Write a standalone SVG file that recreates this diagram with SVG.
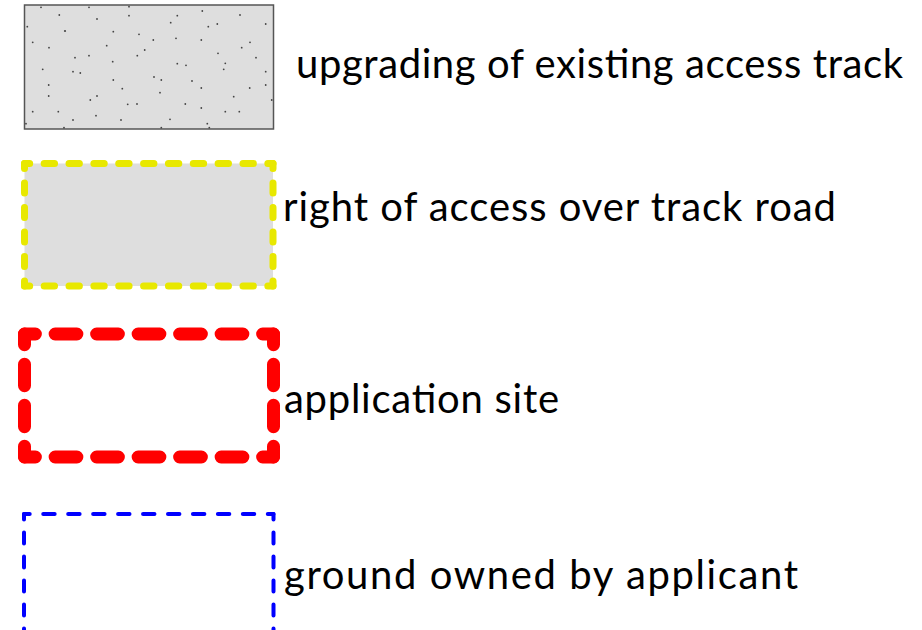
<svg xmlns="http://www.w3.org/2000/svg" width="922" height="630" viewBox="0 0 922 630">
<style>
.lbl{font-family:Lato,"Open Sans","Liberation Sans",sans-serif;font-size:40px;fill:#000}
.dot{fill:#444}
.yel{fill:none;stroke:#e8e800;stroke-width:7;stroke-linecap:round;stroke-dasharray:10 14;stroke-dashoffset:5}
.red{fill:none;stroke:#ff0000;stroke-width:13;stroke-linecap:round;stroke-dasharray:22 20;stroke-dashoffset:11}
.blu{fill:none;stroke:#0000ff;stroke-width:4;stroke-linecap:round;stroke-dasharray:11 13;stroke-dashoffset:5.5}
</style>
<rect width="922" height="630" fill="#fff"/>
<g id="legend-upgrading">
<rect x="24.5" y="5" width="249" height="124" fill="#dedede" stroke="#555" stroke-width="1.5"/>
<g>
<circle class="dot" cx="41" cy="7.3" r="0.9"/><circle class="dot" cx="89" cy="7.3" r="0.9"/><circle class="dot" cx="129" cy="6.7" r="0.9"/>
<circle class="dot" cx="59.3" cy="15" r="0.9"/><circle class="dot" cx="97" cy="19" r="0.9"/><circle class="dot" cx="129" cy="15.7" r="0.9"/>
<circle class="dot" cx="177.3" cy="15.7" r="0.9"/><circle class="dot" cx="202.3" cy="11" r="0.9"/><circle class="dot" cx="240" cy="15" r="0.9"/>
<circle class="dot" cx="27.3" cy="26.7" r="0.9"/><circle class="dot" cx="65" cy="31" r="1.1"/><circle class="dot" cx="113.3" cy="31.7" r="0.9"/>
<circle class="dot" cx="139" cy="34.3" r="0.9"/><circle class="dot" cx="170.7" cy="22.7" r="0.9"/><circle class="dot" cx="208.3" cy="26.7" r="0.9"/>
<circle class="dot" cx="217.3" cy="24" r="0.9"/><circle class="dot" cx="265.7" cy="24" r="0.9"/><circle class="dot" cx="32.7" cy="42.3" r="0.9"/>
<circle class="dot" cx="49" cy="47.7" r="0.9"/><circle class="dot" cx="106.7" cy="45.7" r="0.9"/><circle class="dot" cx="153.3" cy="40" r="0.9"/>
<circle class="dot" cx="176" cy="38.3" r="0.9"/><circle class="dot" cx="201.3" cy="40" r="0.9"/><circle class="dot" cx="250" cy="42.3" r="0.9"/>
<circle class="dot" cx="241.7" cy="47.7" r="0.9"/><circle class="dot" cx="144.7" cy="50" r="0.9"/><circle class="dot" cx="218" cy="53.3" r="0.9"/>
<circle class="dot" cx="75" cy="57.7" r="0.9"/><circle class="dot" cx="89" cy="55.7" r="0.9"/><circle class="dot" cx="137.3" cy="55.7" r="0.9"/>
<circle class="dot" cx="112.7" cy="61.7" r="0.9"/><circle class="dot" cx="256" cy="57.7" r="0.9"/><circle class="dot" cx="42.7" cy="69.3" r="0.9"/>
<circle class="dot" cx="73" cy="71.7" r="0.9"/><circle class="dot" cx="80.3" cy="73" r="0.9"/><circle class="dot" cx="177.3" cy="63.7" r="0.9"/>
<circle class="dot" cx="186" cy="65.3" r="0.9"/><circle class="dot" cx="225.3" cy="63.3" r="0.9"/><circle class="dot" cx="223.7" cy="69.3" r="0.9"/>
<circle class="dot" cx="265.7" cy="71.7" r="0.9"/><circle class="dot" cx="113.3" cy="80" r="0.9"/><circle class="dot" cx="154" cy="77" r="0.9"/>
<circle class="dot" cx="161.3" cy="80" r="0.9"/><circle class="dot" cx="192" cy="81" r="0.9"/><circle class="dot" cx="48.7" cy="85" r="0.9"/>
<circle class="dot" cx="122.3" cy="88.7" r="0.9"/><circle class="dot" cx="201.3" cy="88" r="0.9"/><circle class="dot" cx="249.7" cy="88" r="0.9"/>
<circle class="dot" cx="265.7" cy="85" r="0.9"/><circle class="dot" cx="160" cy="92.7" r="0.9"/><circle class="dot" cx="48.7" cy="96" r="0.9"/>
<circle class="dot" cx="97" cy="96" r="0.9"/><circle class="dot" cx="90.3" cy="100" r="0.9"/><circle class="dot" cx="233.7" cy="96.7" r="0.9"/>
<circle class="dot" cx="271.7" cy="100" r="0.9"/><circle class="dot" cx="127.7" cy="104.3" r="0.9"/><circle class="dot" cx="137" cy="104" r="0.9"/>
<circle class="dot" cx="185.3" cy="104" r="0.9"/><circle class="dot" cx="201.3" cy="108" r="0.9"/><circle class="dot" cx="32.7" cy="111.7" r="0.9"/>
<circle class="dot" cx="58.3" cy="111.7" r="0.9"/><circle class="dot" cx="225.3" cy="111.7" r="0.9"/><circle class="dot" cx="239.3" cy="111.7" r="0.9"/>
<circle class="dot" cx="73" cy="120" r="0.9"/><circle class="dot" cx="96" cy="115.7" r="0.9"/><circle class="dot" cx="121" cy="120" r="0.9"/>
<circle class="dot" cx="170" cy="119.3" r="0.9"/><circle class="dot" cx="207.3" cy="123.7" r="0.9"/><circle class="dot" cx="26" cy="123.7" r="0.9"/>
<circle class="dot" cx="64" cy="127.7" r="0.9"/><circle class="dot" cx="161.3" cy="127.7" r="0.9"/><circle class="dot" cx="209.3" cy="127.7" r="0.9"/>
</g>
<text class="lbl" x="296" y="78" textLength="607">upgrading of existing access track</text>
</g>
<g id="legend-right-of-access">
<rect x="24.5" y="163.5" width="248.5" height="122.5" fill="#dedede"/>
<path class="yel" d="M24.5 163.5H273" pathLength="240"/>
<path class="yel" d="M24.5 286H273" pathLength="240"/>
<path class="yel" d="M24.5 163.5V286" pathLength="120"/>
<path class="yel" d="M273 163.5V286" pathLength="120"/>
<text class="lbl" x="283" y="221" textLength="553">right of access over track road</text>
</g>
<g id="legend-application-site">
<path class="red" d="M24.5 334H273.5" pathLength="252"/>
<path class="red" d="M24.5 457H273.5" pathLength="252"/>
<path class="red" d="M24.5 334V457" pathLength="126"/>
<path class="red" d="M273.5 334V457" pathLength="126"/>
<text class="lbl" x="284" y="413" textLength="275">application site</text>
</g>
<g id="legend-ground-owned">
<path class="blu" d="M24 514H273.5" pathLength="240"/>
<path class="blu" d="M24 514V660"/>
<path class="blu" d="M273.5 514V660"/>
<text class="lbl" x="284" y="589" textLength="514">ground owned by applicant</text>
</g>
</svg>
